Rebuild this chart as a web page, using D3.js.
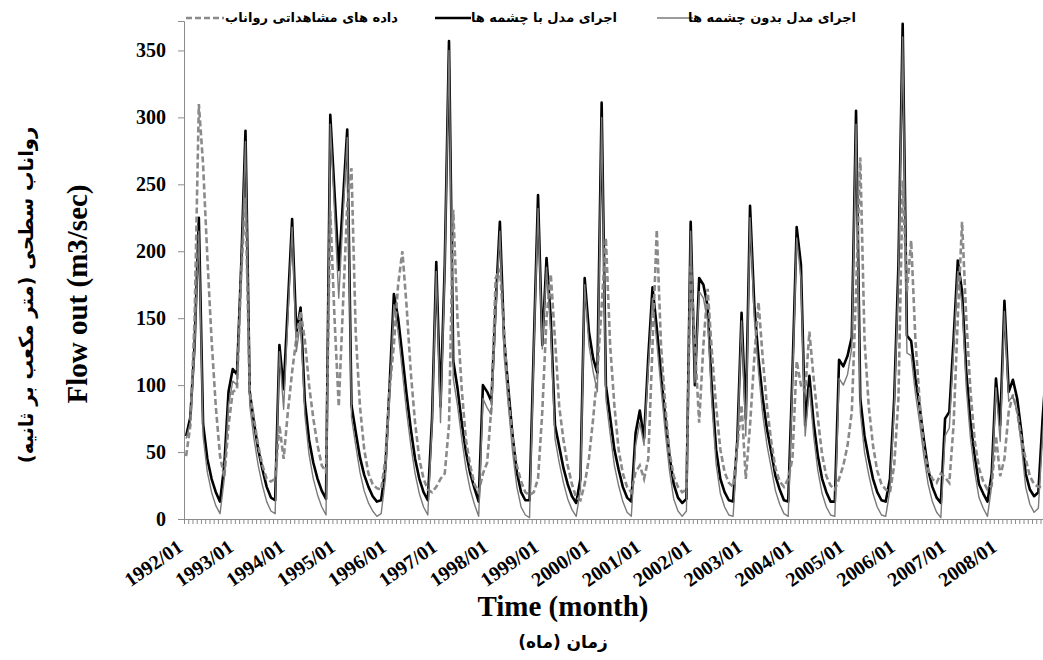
<!DOCTYPE html>
<html>
<head>
<meta charset="utf-8">
<script src="https://cdn.jsdelivr.net/npm/d3@7"></script>
<style>
  body { margin: 0; background: #fff; }
  svg { display: block; }
</style>
</head>
<body>
<div id="chart"></div>
<script>
// Monthly series, 1992/01 .. 2008/12 (204 months)
const startYear = 1992;
const nMonths = 204;

// model run with springs (black)
const withSprings = [
  62, 76, 130, 225, 71, 45, 30, 20, 13, 40, 95, 112,
  108, 190, 290, 95, 72, 52, 37, 24, 16, 14, 130, 97,
  160, 224, 139, 158, 88, 59, 42, 30, 21, 15, 302, 244,
  186, 238, 291, 85, 65, 46, 33, 24, 17, 13, 14, 38,
  100, 168, 150, 122, 93, 67, 45, 30, 20, 14, 75, 192,
  84, 190, 357, 118, 98, 72, 50, 34, 23, 13, 100, 95,
  88, 159, 222, 134, 97, 62, 35, 20, 14, 14, 130, 242,
  130, 195, 150, 70, 54, 38, 26, 17, 12, 30, 180, 140,
  120, 109, 311, 100, 76, 52, 37, 24, 16, 13, 64, 81,
  60, 121, 173, 143, 109, 76, 47, 26, 16, 12, 15, 222,
  100, 180, 175, 159, 97, 52, 30, 20, 14, 13, 59, 154,
  75, 234, 160, 120, 90, 67, 50, 32, 22, 14, 13, 109,
  218, 190, 70, 107, 72, 47, 30, 20, 13, 13, 119, 114,
  122, 136, 305, 90, 62, 45, 30, 20, 14, 13, 30, 90,
  190, 370, 137, 133, 105, 84, 59, 37, 24, 16, 12, 75,
  80, 134, 193, 170, 110, 72, 47, 26, 19, 13, 34, 105,
  70, 163, 95, 104, 90, 65, 34, 22, 17, 20, 75, 120
];

// model run without springs (thin grey)
const withoutSprings = [
  60, 72, 125, 215, 62, 35, 20, 10, 4, 30, 85, 103,
  100, 185, 282, 85, 60, 40, 25, 13, 6, 4, 125, 82,
  150, 218, 125, 148, 78, 48, 30, 18, 9, 3, 295, 230,
  165, 225, 285, 76, 55, 35, 21, 12, 6, 2, 4, 30,
  92, 160, 140, 110, 80, 55, 34, 19, 9, 3, 70, 185,
  72, 185, 350, 105, 85, 60, 38, 22, 11, 2, 90, 83,
  78, 150, 215, 122, 85, 50, 24, 9, 3, 1, 125, 232,
  127, 188, 140, 60, 42, 27, 15, 7, 2, 22, 175, 130,
  110, 95, 300, 90, 64, 40, 25, 13, 5, 2, 55, 72,
  55, 113, 165, 132, 98, 65, 36, 15, 6, 2, 6, 215,
  102, 170, 165, 148, 86, 41, 19, 9, 3, 2, 52, 148,
  62, 225, 150, 110, 78, 55, 38, 21, 11, 4, 2, 100,
  210, 180, 62, 98, 62, 36, 19, 9, 3, 2, 105, 100,
  108, 128, 295, 80, 50, 33, 19, 9, 3, 2, 22, 82,
  180, 360, 124, 122, 94, 72, 47, 26, 13, 5, 1, 62,
  68, 125, 185, 160, 98, 60, 35, 16, 8, 2, 25, 98,
  58, 155, 88, 92, 80, 55, 24, 11, 5, 8, 62, 110
];

// observed runoff (dashed)
const observed = [
  47, 70, 150, 310, 265, 196, 134, 84, 47, 31, 70, 95,
  97, 184, 240, 95, 75, 55, 40, 30, 28, 30, 70, 45,
  80, 110, 135, 155, 134, 100, 75, 55, 40, 35, 230, 150,
  84, 160, 234, 262, 139, 84, 52, 34, 26, 23, 22, 45,
  97, 130, 175, 200, 159, 109, 72, 45, 30, 22, 20, 24,
  30, 34, 70, 231, 150, 97, 59, 40, 26, 20, 34, 42,
  84, 180, 187, 140, 90, 60, 40, 28, 20, 18, 20, 30,
  80, 150, 183, 134, 84, 59, 40, 26, 16, 14, 26, 45,
  75, 110, 159, 210, 130, 85, 52, 34, 24, 20, 35, 40,
  30, 45, 130, 216, 130, 85, 50, 32, 24, 20, 22, 190,
  130, 72, 130, 172, 125, 84, 52, 35, 27, 24, 55, 85,
  30, 70, 120, 162, 120, 84, 58, 38, 28, 24, 30, 45,
  118, 100, 95, 140, 105, 75, 48, 32, 25, 22, 30, 40,
  55, 80, 170, 270, 134, 84, 55, 36, 26, 22, 20, 40,
  90, 253, 170, 208, 134, 88, 52, 37, 30, 27, 34, 31,
  27, 70, 150, 222, 150, 95, 58, 38, 28, 22, 25, 62,
  32, 45, 80, 93, 80, 60, 45, 32, 26, 24, 24, 26
];

const yTicks = [0, 50, 100, 150, 200, 250, 300, 350];
const monthLabels = d3.range(nMonths).map(i =>
  (startYear + Math.floor(i / 12)) + '/' + String(i % 12 + 1).padStart(2, '0'));
const yearLabelIdx = d3.range(0, nMonths, 12);

const legendItems = [
  { name: 'داده های مشاهداتی رواناب', key: 'obs' },
  { name: 'اجرای مدل با چشمه ها', key: 'with' },
  { name: 'اجرای مدل بدون چشمه ها', key: 'without' }
];

// chart size
const width = 1043, height = 660;
const axisColor = '#8c8c8c';
const serif = '"Liberation Serif", "Times New Roman", serif';

const svg = d3.select('#chart')
  .append('svg')
  .attr('width', width)
  .attr('height', height);

// scales: months are categories, points sit between tick marks
const x = d3.scaleLinear()
  .domain([0, nMonths])
  .range([184, 184 + 4.24 * nMonths]);
const y = d3.scaleLinear()
  .domain([0, 372])
  .range([519, 21]);
const xc = i => x(i + 0.5);

// y axis
const yAxis = svg.append('g')
  .attr('transform', 'translate(184,0)')
  .call(d3.axisLeft(y).tickValues(yTicks).tickSize(6).tickPadding(12));
yAxis.select('.domain').attr('stroke', axisColor);
yAxis.selectAll('.tick line').attr('stroke', axisColor);
yAxis.selectAll('.tick text')
  .attr('font-family', serif)
  .attr('font-weight', 'bold')
  .attr('font-size', 20)
  .attr('fill', '#000');

// x axis: one tick per month
const xAxis = svg.append('g')
  .attr('transform', 'translate(0,519)')
  .call(d3.axisBottom(x).tickValues(d3.range(0, nMonths + 1)).tickSize(5).tickFormat(''));
xAxis.select('.domain').attr('stroke', axisColor);
xAxis.selectAll('.tick line').attr('stroke', axisColor);

// rotated year labels
svg.append('g')
  .selectAll('text')
  .data(yearLabelIdx)
  .join('text')
  .attr('transform', i => `translate(${xc(i) - 2},${550}) rotate(-35)`)
  .attr('text-anchor', 'end')
  .attr('font-family', serif)
  .attr('font-weight', 'bold')
  .attr('font-size', 20)
  .text(i => monthLabels[i]);

// line generators
const line = d3.line()
  .x((d, i) => xc(i))
  .y(d => y(d));

svg.append('path')
  .datum(withSprings)
  .attr('fill', 'none')
  .attr('stroke', '#000')
  .attr('stroke-width', 2.6)
  .attr('stroke-linejoin', 'round')
  .attr('d', line);

svg.append('path')
  .datum(observed)
  .attr('fill', 'none')
  .attr('stroke', '#8a8a8a')
  .attr('stroke-width', 2.6)
  .attr('stroke-dasharray', '6,3')
  .attr('d', line);

svg.append('path')
  .datum(withoutSprings)
  .attr('fill', 'none')
  .attr('stroke', '#7a7a7a')
  .attr('stroke-width', 1.4)
  .attr('stroke-linejoin', 'round')
  .attr('d', line);

// legend across the top (sample line left of the text)
const legendPos = [
  { lx: 186, tx: 398 },
  { lx: 435, tx: 617 },
  { lx: 657, tx: 856 }
];
const legend = svg.append('g');
legendItems.forEach((item, k) => {
  const p = legendPos[k];
  const ln = legend.append('line')
    .attr('x1', p.lx).attr('x2', p.lx + (k === 0 ? 38 : 36))
    .attr('y1', 18).attr('y2', 18);
  if (item.key === 'obs') {
    ln.attr('stroke', '#8a8a8a').attr('stroke-width', 2.6).attr('stroke-dasharray', '6,3');
  } else if (item.key === 'with') {
    ln.attr('stroke', '#000').attr('stroke-width', 2.6);
  } else {
    ln.attr('stroke', '#7a7a7a').attr('stroke-width', 1.4);
  }
  legend.append('text')
    .attr('x', p.tx)
    .attr('y', 22)
    .attr('text-anchor', 'end')
    .attr('font-family', '"DejaVu Sans", sans-serif')
    .attr('font-weight', 'bold')
    .attr('font-size', 13)
    .text(item.name);
});

// axis titles
svg.append('text')
  .attr('transform', 'translate(87,294) rotate(-90)')
  .attr('text-anchor', 'middle')
  .attr('font-family', serif)
  .attr('font-weight', 'bold')
  .attr('font-size', 29)
  .text('Flow out (m3/sec)');

svg.append('text')
  .attr('transform', 'translate(33,295) rotate(-90)')
  .attr('text-anchor', 'middle')
  .attr('font-family', '"DejaVu Sans", sans-serif')
  .attr('font-weight', 'bold')
  .attr('font-size', 19.5)
  .text('رواناب سطحی (متر مکعب بر ثانیه)');

svg.append('text')
  .attr('x', 563)
  .attr('y', 616)
  .attr('text-anchor', 'middle')
  .attr('font-family', serif)
  .attr('font-weight', 'bold')
  .attr('font-size', 29)
  .text('Time (month)');

svg.append('text')
  .attr('x', 563)
  .attr('y', 648)
  .attr('text-anchor', 'middle')
  .attr('font-family', '"DejaVu Sans", sans-serif')
  .attr('font-weight', 'bold')
  .attr('font-size', 17)
  .text('زمان (ماه)');
</script>
</body>
</html>
